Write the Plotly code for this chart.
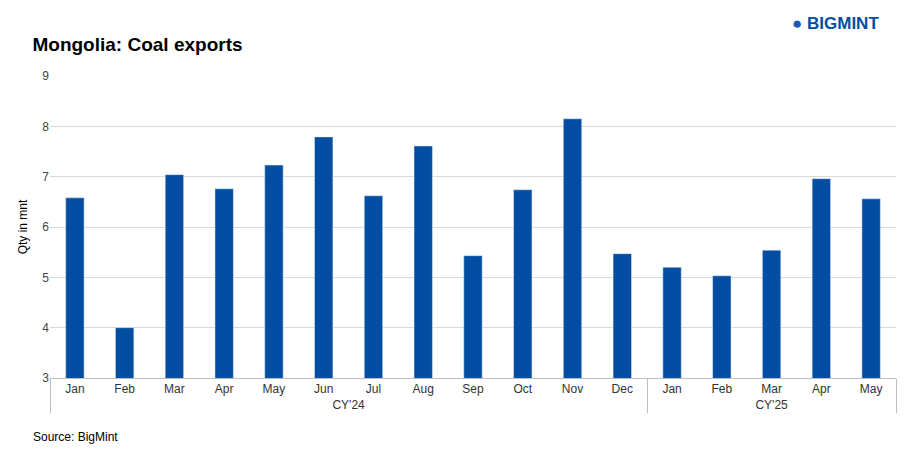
import plotly.graph_objects as go

years = ["CY'24"] * 12 + ["CY'25"] * 5
months = ["Jan", "Feb", "Mar", "Apr", "May", "Jun", "Jul", "Aug", "Sep", "Oct", "Nov", "Dec",
          "Jan", "Feb", "Mar", "Apr", "May"]
exports = [6.58, 4.0, 7.04, 6.76, 7.23, 7.79, 6.62, 7.61, 5.43, 6.74, 8.15, 5.47,
           5.2, 5.03, 5.54, 6.96, 6.56]

fig = go.Figure(go.Bar(x=[years, months], y=exports, marker_color="#034EA2", width=0.37))

fig.update_layout(
    width=906, height=453, paper_bgcolor="white", plot_bgcolor="white",
    margin=dict(l=42, r=18, t=68, b=83, autoexpand=False),
    font=dict(family="Liberation Sans, Arial", size=12, color="#333"),
    showlegend=False,
    title=dict(text="<b>Mongolia: Coal exports</b>", x=0.027, y=0.935, yref="container",
               xanchor="left", font=dict(size=19, color="black")),
)
fig.update_yaxes(range=[3, 9], dtick=1, gridcolor="#d9d9d9", zeroline=False,
                 title=dict(text="Qty in mnt", font=dict(size=12, color="black"), standoff=12),
                 tickfont=dict(color="#444"))
fig.update_xaxes(showline=True, linecolor="#bfbfbf", tickfont=dict(color="#333"),
                 showdividers=True, dividercolor="#bfbfbf")

fig.add_annotation(text="Source: BigMint", x=-0.022, y=-0.195, xref="paper", yref="paper",
                   xanchor="left", yanchor="middle", showarrow=False,
                   font=dict(size=12, color="black"))
fig.add_annotation(text="<b><span style='color:#1A5BB5'>●</span> BIGMINT</b>", x=0.982, y=1.175,
                   xref="paper", yref="paper", xanchor="right", yanchor="middle", showarrow=False,
                   font=dict(size=17, color="#034EA2"))

fig.write_html("out.html")
